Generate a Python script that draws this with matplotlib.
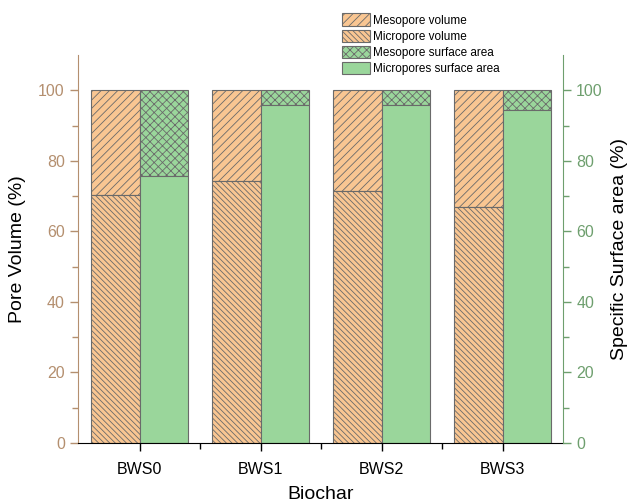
import matplotlib

matplotlib.use("Agg")
import matplotlib.pyplot as plt  # noqa: E402
import numpy as np  # noqa: E402

samples = ["BWS0", "BWS1", "BWS2", "BWS3"]
micro_volume = [70.3, 74.3, 71.3, 66.8]
meso_volume = [100 - v for v in micro_volume]
micro_area = [75.6, 95.8, 95.8, 94.3]
meso_area = [100 - v for v in micro_area]

ORANGE = "#F9C692"
GREEN = "#9AD69B"
EDGE = "#6a6a6a"
TAN = "#B48F6F"
SAGE = "#6E9F6E"

plt.rcParams["font.family"] = ["Liberation Sans", "DejaVu Sans"]
plt.rcParams["hatch.linewidth"] = 0.6

fig = plt.figure(figsize=(6.31, 5.03), dpi=100)
ax = fig.add_axes([0.1236, 0.1193, 0.7686, 0.7714])

x = np.arange(len(samples))
w = 0.4
kw = dict(width=w, edgecolor=EDGE, linewidth=0.8, align="edge")
b_meso_v = ax.bar(x - w, meso_volume, bottom=micro_volume, color=ORANGE,
                  hatch="////", label="Mesopore volume", **kw)
b_micro_v = ax.bar(x - w, micro_volume, color=ORANGE, hatch="\\" * 6,
                   label="Micropore volume", **kw)
b_meso_a = ax.bar(x, meso_area, bottom=micro_area, color=GREEN, hatch="xxxx",
                  label="Mesopore surface area", **kw)
b_micro_a = ax.bar(x, micro_area, color=GREEN, label="Micropores surface area", **kw)

ax.set_xlim(-0.51, 3.5)
ax.set_ylim(0, 110)
ax.set_xticks(x)
ax.set_xticklabels(samples, fontsize=11.5)
ax.set_xticks(x[:-1] + 0.5, minor=True)
ax.set_yticks(np.arange(0, 101, 20))
ax.set_yticks(np.arange(10, 100, 20), minor=True)
ax.tick_params(axis="x", which="major", length=6, width=1, color="black", pad=8)
ax.tick_params(axis="x", which="minor", length=4, width=1, color="black")
ax.tick_params(axis="y", which="major", length=6, width=1, color=TAN,
               labelcolor=TAN, labelsize=11.5)
ax.tick_params(axis="y", which="minor", length=4, width=1, color=TAN)
ax.spines["top"].set_visible(False)
ax.spines["right"].set_visible(False)
ax.spines["left"].set_color(TAN)
ax.spines["bottom"].set_color("black")
ax.set_ylabel("Pore Volume (%)", fontsize=14, labelpad=9)
ax.set_xlabel("Biochar", fontsize=14, labelpad=6)

# Right axis shares the 0-100 % scale for the surface-area bars.
ax2 = ax.twinx()
ax2.set_ylim(0, 110)
ax2.set_yticks(np.arange(0, 101, 20))
ax2.set_yticks(np.arange(10, 100, 20), minor=True)
ax2.tick_params(axis="y", which="major", length=6, width=1, color=SAGE,
                labelcolor=SAGE, labelsize=11.5)
ax2.tick_params(axis="y", which="minor", length=4, width=1, color=SAGE)
for side in ("top", "left", "bottom"):
    ax2.spines[side].set_visible(False)
ax2.spines["right"].set_color(SAGE)
ax2.set_ylabel("Specific Surface area (%)", fontsize=14, labelpad=6)

fig.legend(handles=[b_meso_v, b_micro_v, b_meso_a, b_micro_a],
           loc="upper left", bbox_to_anchor=(0.532, 0.985), frameon=False,
           fontsize=8.5, borderpad=0, labelspacing=0.25, handlelength=2.4,
           handleheight=1.25, handletextpad=0.3)

fig.savefig("out.png", dpi=100)
